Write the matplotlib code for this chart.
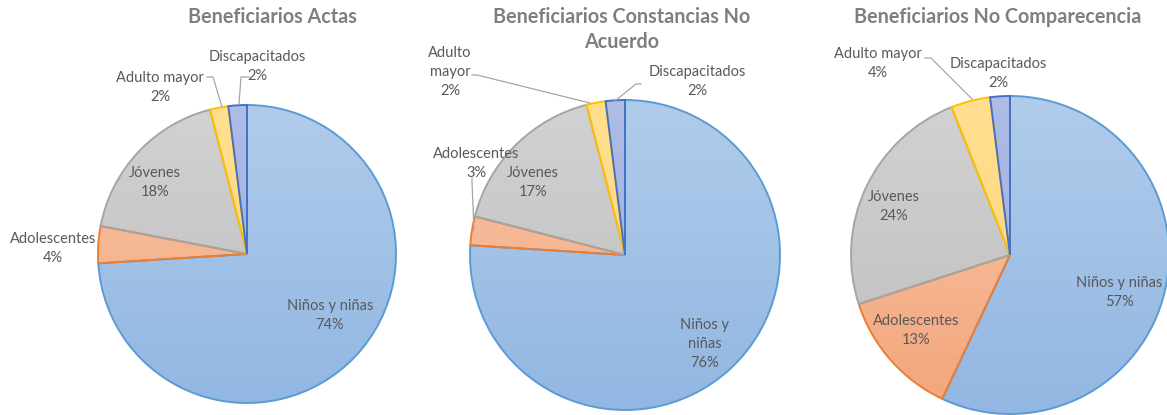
import matplotlib
matplotlib.use("Agg")
import matplotlib.pyplot as plt
import numpy as np
from matplotlib.colors import to_rgb

W, H = 1167, 415

# ---------------- data ----------------
categories = ["Niños y niñas", "Adolescentes", "Jóvenes", "Adulto mayor", "Discapacitados"]
titles = ["Beneficiarios Actas", "Beneficiarios Constancias No\nAcuerdo", "Beneficiarios No Comparecencia"]
actas = [74, 4, 18, 2, 2]
constancias = [76, 3, 17, 2, 2]
no_comparecencia = [57, 13, 24, 4, 2]
series = [actas, constancias, no_comparecencia]

# ---------------- styles ----------------
top_cols = ["#B1CCEB", "#F8C7AB", "#D2D2D2", "#FFE08F", "#AEBCE6"]
bot_cols = ["#92B7E2", "#F3A57A", "#BDBDBD", "#FFD27A", "#9AACDF"]
edge_cols = ["#5B9BD5", "#ED7D31", "#A5A5A5", "#FFC000", "#4472C4"]
TXT = "#595959"
TITLE = "#7F7F7F"
LEADER = "#A6A6A6"
FONT = "Lato"

# pie geometry in pixel coords (x, y from top, radius)
pies = [(247, 254, 149), (625, 255, 155), (1010, 255, 159)]
title_pos = [(272, 17), (622, 17), (998, 17)]
TITLE_LINE = 25
LABEL_LINE = 19

# label text overrides (line wrapping) and positions (center x, first-line y)
wrap = {
    (1, 0): "Niños y\nniñas",
    (1, 3): "Adulto\nmayor",
}
label_pos = [
    [(330, 305), (53, 238), (155, 172), (160, 77), (257, 56)],
    [(705, 324), (476, 153), (533, 172), (450, 52), (697, 71)],
    [(1119, 282), (916, 320), (894, 196), (878, 53), (998, 63)],
]
leaders = [
    {3: [(207, 77), (213, 77), (222, 107)], 4: [(249, 77), (241, 77), (239, 104)]},
    {3: [(472, 75), (477, 75), (590, 103)], 4: [(641, 84), (636, 84), (615, 101)],
     1: [(472, 178), (472, 182), (474, 230)]},
    {3: [(925, 58), (931, 58), (972, 99)]},
]

fig = plt.figure(figsize=(W / 100, H / 100), dpi=100)
ax = fig.add_axes([0, 0, 1, 1])


def fy(py):
    return H - py


for i, vals in enumerate(series):
    cx, cy, r = pies[i]
    wedges, _ = ax.pie(vals, startangle=90, counterclock=False,
                       center=(cx, fy(cy)), radius=r,
                       wedgeprops=dict(linewidth=1.4, facecolor="none"))
    for j, w in enumerate(wedges):
        w.set_edgecolor(edge_cols[j])
        w.set_zorder(3)
        t = np.array(to_rgb(top_cols[j]))
        b = np.array(to_rgb(bot_cols[j]))
        f = np.linspace(0, 1, 64)[:, None]
        grad = (t * (1 - f) + b * f)[:, None, :]
        im = ax.imshow(grad, extent=(cx - r, cx + r, fy(cy) - r, fy(cy) + r),
                       origin="upper", aspect="auto", zorder=2, interpolation="bilinear")
        im.set_clip_path(w)
    # title
    tx, ty = title_pos[i]
    for k, line in enumerate(titles[i].split("\n")):
        ax.text(tx, fy(ty + k * TITLE_LINE + 6.5), line, ha="center", va="baseline",
                fontsize=14.2, fontweight="bold", color=TITLE, family=FONT)
    # labels (one text per line)
    for j, v in enumerate(vals):
        name = wrap.get((i, j), categories[j])
        lines = name.split("\n") + [f"{v}%"]
        lx, ly = label_pos[i][j]
        for k, line in enumerate(lines):
            ax.text(lx, fy(ly + k * LABEL_LINE + 5), line, ha="center", va="baseline",
                    fontsize=10.5, color=TXT, family=FONT, zorder=5)
    for j, pts in leaders[i].items():
        xs = [p[0] for p in pts]
        ys = [fy(p[1]) for p in pts]
        ax.plot(xs, ys, color=LEADER, lw=0.9, zorder=4)

ax.set_xlim(0, W)
ax.set_ylim(0, H)
ax.set_aspect("auto")
ax.axis("off")
fig.savefig("out.png", dpi=100)
